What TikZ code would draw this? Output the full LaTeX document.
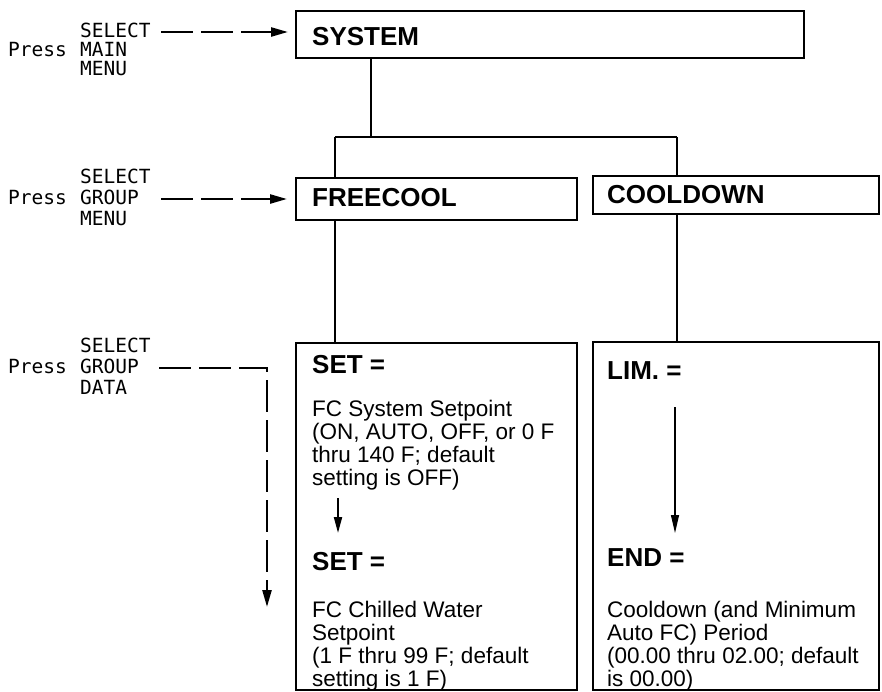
\documentclass[tikz,border=0pt]{standalone}
\usepackage{fontspec}
\setmainfont{Liberation Sans}
\newfontfamily\lblfont{DejaVu Sans Mono}
\usetikzlibrary{arrows.meta}
\newcommand\stk[1]{\begin{tabular}[t]{@{}l@{}}#1\end{tabular}}
\begin{document}
\begin{tikzpicture}[x=1pt,y=-1pt,
  box/.style={draw, line width=2.3pt, inner sep=0pt, anchor=north west},
  conn/.style={line width=2pt},
  hdr/.style={font=\bfseries\fontsize{26}{26}\selectfont, inner sep=0pt, anchor=base west},
  body/.style={font=\fontsize{22.5}{22.5}\selectfont, inner sep=0pt, anchor=base west},
  lbl/.style={font=\lblfont\fontsize{19.5}{19.5}\selectfont, inner sep=0pt, anchor=base west},
  dasharrow/.style={line width=2.4pt, dash pattern=on 32pt off 8pt, -{Triangle[length=17pt,width=9pt]}},
  downarrow/.style={line width=2pt, -{Triangle[length=16pt,width=8pt]}},
  thinarrow/.style={line width=1.2pt, -{Triangle[length=18pt,width=8pt]}}
]
\useasboundingbox (0,0) rectangle (882,691);

% boxes
\node[box, minimum width=508pt, minimum height=47pt] (sys) at (295,10) {};
\node[box, minimum width=281pt, minimum height=42pt] (fc) at (295,177) {};
\node[box, minimum width=286pt, minimum height=38pt] (cd) at (592,175) {};
\node[box, minimum width=281pt, minimum height=347pt] (setb) at (295,342) {};
\node[box, minimum width=286pt, minimum height=348pt] (limb) at (592,341) {};

% box texts
\node[hdr] (tsys) at (312,45) {SYSTEM};
\node[hdr] (tfc) at (312,206) {FREECOOL};
\node[hdr] (tcd) at (607,203) {COOLDOWN};
\node[hdr] (tset1) at (312,373) {SET =};
\node[body] (b1) at (312,416) {\stk{FC System Setpoint\\(ON, AUTO, OFF, or 0 F\\thru 140 F; default\\setting is OFF)}};
\node[hdr] (tset2) at (312,570) {SET =};
\node[body] (b2) at (312,617) {\stk{FC Chilled Water\\Setpoint\\(1 F thru 99 F; default\\setting is 1 F)}};
\node[hdr] (tlim) at (607,379) {LIM. =};
\node[hdr] (tend) at (607,566) {END =};
\node[body] (b3) at (607,617) {\stk{Cooldown (and Minimum\\Auto FC) Period\\(00.00 thru 02.00; default\\is 00.00)}};

% tree connectors
\coordinate (j) at (371,137);
\coordinate (jl) at (335,137);
\coordinate (jr) at (677,137);
\draw[conn] (sys.south -| j) -- (j);
\draw[conn] (jl) -- (jr);
\draw[conn] (jl) -- (jl |- fc.north);
\draw[conn] (jr) -- (jr |- cd.north);
\draw[conn] (jl |- fc.south) -- (jl |- setb.north);
\draw[conn] (jr |- cd.south) -- (jr |- limb.north);

% arrows inside boxes
\coordinate (s1) at (338,498);
\coordinate (s2) at (338,533);
\draw[downarrow] (s1) -- (s2);
\coordinate (l1) at (675,407);
\coordinate (l2) at (675,533);
\draw[thinarrow] (l1) -- (l2);

% left labels
\node[lbl] (p1) at (8,56) {Press};
\node[lbl] (s1a) at (80,37) {SELECT};
\node[lbl] (s1b) at (80,56) {MAIN};
\node[lbl] (s1c) at (80,75) {MENU};

\node[lbl] (p2) at (8,204) {Press};
\node[lbl] (s2a) at (80,183) {SELECT};
\node[lbl] (s2b) at (80,204) {GROUP};
\node[lbl] (s2c) at (80,225) {MENU};

\node[lbl] (p3) at (8,373) {Press};
\node[lbl] (s3a) at (80,352) {SELECT};
\node[lbl] (s3b) at (80,373) {GROUP};
\node[lbl] (s3c) at (80,394) {DATA};

% dashed arrows
\coordinate (d1) at (161,32);
\draw[dasharrow] (d1) -- ([xshift=-7pt]sys.west |- d1);
\coordinate (d2) at (161,199);
\draw[dasharrow] (d2) -- ([xshift=-8pt]fc.west |- d2);
\coordinate (d3) at (159,368);
\coordinate (d3end) at (267,607);
\draw[dasharrow] (d3) -| (d3end);
\end{tikzpicture}
\end{document}
